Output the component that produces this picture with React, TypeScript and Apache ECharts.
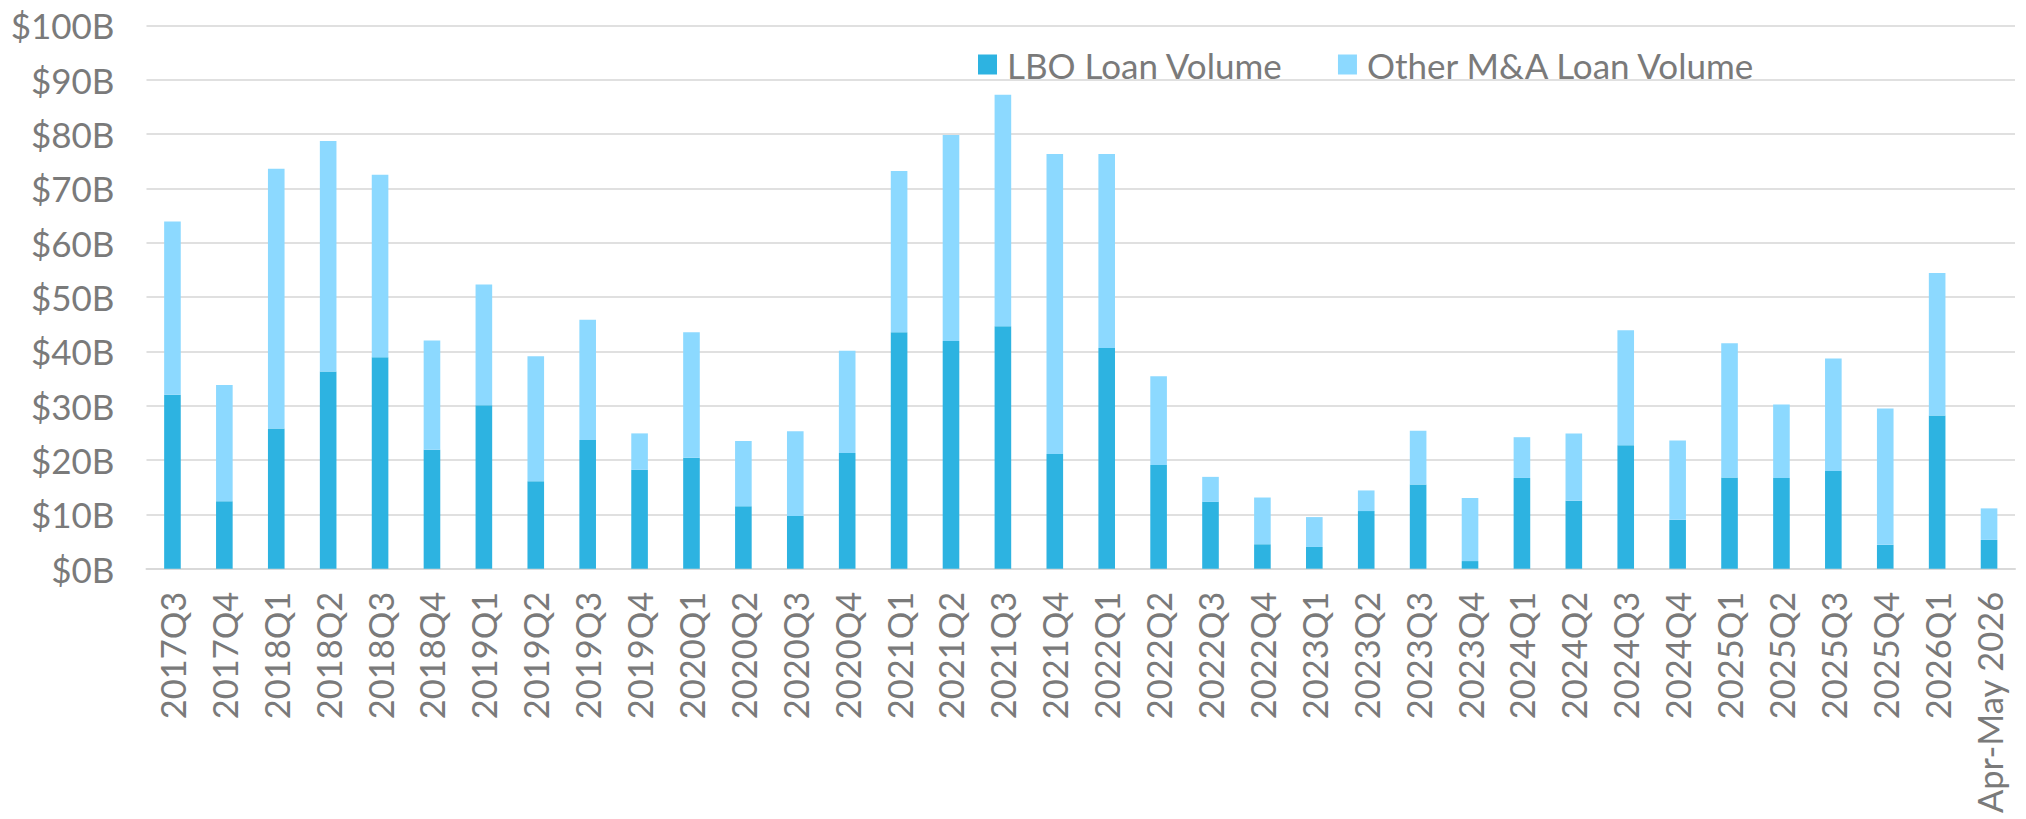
import React, { useEffect, useRef } from "react";
import * as echarts from "echarts";

const categories = [
  "2017Q3", "2017Q4",
  "2018Q1", "2018Q2", "2018Q3", "2018Q4",
  "2019Q1", "2019Q2", "2019Q3", "2019Q4",
  "2020Q1", "2020Q2", "2020Q3", "2020Q4",
  "2021Q1", "2021Q2", "2021Q3", "2021Q4",
  "2022Q1", "2022Q2", "2022Q3", "2022Q4",
  "2023Q1", "2023Q2", "2023Q3", "2023Q4",
  "2024Q1", "2024Q2", "2024Q3", "2024Q4",
  "2025Q1", "2025Q2", "2025Q3", "2025Q4",
  "2026Q1", "Apr-May 2026",
];

// LBO loan volume ($B)
const lboVolume = [
  32.0, 12.4,
  25.8, 36.3, 38.9, 21.9,
  30.1, 16.1, 23.7, 18.2,
  20.4, 11.5, 9.7, 21.3,
  43.5, 41.9, 44.6, 21.1,
  40.6, 19.1, 12.3, 4.5,
  4.0, 10.6, 15.5, 1.4,
  16.7, 12.5, 22.7, 9.0,
  16.8, 16.7, 18.0, 4.4,
  28.2, 5.3,
];

// Other M&A loan volume ($B)
const otherVolume = [
  31.9, 21.4,
  47.8, 42.4, 33.6, 20.1,
  22.2, 23.0, 22.1, 6.7,
  23.1, 12.0, 15.6, 18.8,
  29.7, 37.9, 42.6, 55.2,
  35.7, 16.3, 4.6, 8.6,
  5.5, 3.8, 9.9, 11.6,
  7.5, 12.4, 21.2, 14.6,
  24.7, 13.5, 20.7, 25.1,
  26.2, 5.8,
];

const yTicks = [0, 10, 20, 30, 40, 50, 60, 70, 80, 90, 100];

const FONT = "Lato";
const TEXT = "#7a7a7a";

export default function App() {
  const ref = useRef<HTMLDivElement>(null);
  useEffect(() => {
    if (!ref.current) return;
    const chart = echarts.init(ref.current, undefined, { renderer: "svg" });
    chart.setOption({
      animation: false,
      backgroundColor: "#ffffff",
      textStyle: { fontFamily: FONT },
      grid: { left: 146.5, right: 11, top: 25.3, bottom: 250.3, containLabel: false },
      legend: {
        left: 973,
        top: 42,
        icon: "rect",
        itemWidth: 19,
        itemHeight: 20,
        itemGap: 55,
        textStyle: { fontFamily: FONT, fontSize: 35, color: TEXT, padding: [0, 0, 0, 5] },
        data: ["LBO Loan Volume", "Other M&A Loan Volume"],
      },
      xAxis: {
        type: "category",
        data: categories,
        axisLine: { lineStyle: { color: "#d9d9d9", width: 2 } },
        axisTick: { show: false },
        axisLabel: {
          rotate: 90,
          interval: 0,
          margin: 23,
          fontFamily: FONT,
          fontSize: 34.5,
          color: TEXT,
        },
      },
      yAxis: {
        type: "value",
        min: yTicks[0],
        max: yTicks[yTicks.length - 1],
        interval: 10,
        axisLine: { show: false },
        axisTick: { show: false },
        splitLine: { lineStyle: { color: "#e0e0e0", width: 2 } },
        axisLabel: {
          margin: 32,
          fontFamily: FONT,
          fontSize: 35,
          color: TEXT,
          formatter: (v: number) => "$" + v + "B",
        },
      },
      series: [
        {
          name: "LBO Loan Volume",
          type: "bar",
          stack: "total",
          data: lboVolume,
          barWidth: "32%",
          itemStyle: { color: "#2db3e1" },
        },
        {
          name: "Other M&A Loan Volume",
          type: "bar",
          stack: "total",
          data: otherVolume,
          barWidth: "32%",
          itemStyle: { color: "#8cd9ff" },
        },
      ],
    });
    return () => chart.dispose();
  }, []);
  return (
    <div
      ref={ref}
      style={{ position: "fixed", left: 0, top: 0, width: 2026, height: 819 }}
    />
  );
}
